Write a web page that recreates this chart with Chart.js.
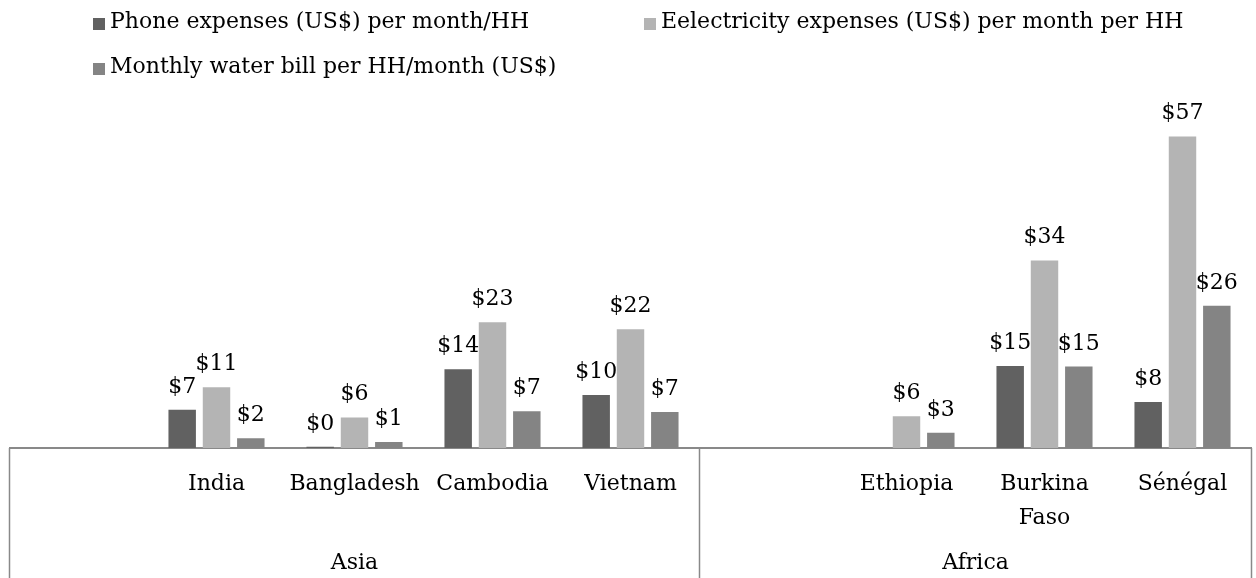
<!DOCTYPE html>
<html>
<head>
<meta charset="utf-8">
<script src="https://cdn.jsdelivr.net/npm/chart.js@4"></script>
<style>
  html, body { margin: 0; padding: 0; background: #fff; }
  #wrap { width: 1256px; height: 578px; }
</style>
</head>
<body>
<div id="wrap"><canvas id="chart" width="1256" height="578"></canvas></div>
<script>
const countries = ['', 'India', 'Bangladesh', 'Cambodia', 'Vietnam', '', 'Ethiopia', ['Burkina', 'Faso'], 'Sénégal'];
const regions = ['Asia', 'Africa'];
const regionSizes = [5, 4];

const phone = [null, 7.0, 0.25, 14.4, 9.7, null, null, 15.0, 8.4];
const electricity = [null, 11.1, 5.6, 23.0, 21.7, null, 5.8, 34.3, 57.0];
const water = [null, 1.8, 1.1, 6.7, 6.6, null, 2.8, 14.9, 26.0];

const seriesNames = [
    'Phone expenses (US$) per month/HH',
    'Eelectricity expenses (US$) per month per HH',
    'Monthly water bill per HH/month (US$)'
];

const FONT = 'DejaVu Serif';
const FSIZE = 22;
const LINE = '#898989';

// value labels above each bar
const barLabels = {
    id: 'barLabels',
    afterDatasetsDraw(chart) {
        const ctx = chart.ctx;
        ctx.save();
        ctx.font = FSIZE + 'px "' + FONT + '"';
        ctx.fillStyle = '#000';
        ctx.textAlign = 'center';
        ctx.textBaseline = 'alphabetic';
        chart.data.datasets.forEach(function(ds, i) {
            const meta = chart.getDatasetMeta(i);
            meta.data.forEach(function(bar, j) {
                const v = ds.data[j];
                if (v === null || v === undefined) return;
                ctx.fillText('$' + Math.round(v), bar.x, bar.y - 17);
            });
        });
        ctx.restore();
    }
};

// legend laid out in two columns like the original
const legendBoxes = {
    id: 'legendBoxes',
    afterDraw(chart) {
        const ctx = chart.ctx;
        const spots = [[110, 22], [661, 22], [110, 67]];
        ctx.save();
        ctx.font = FSIZE + 'px "' + FONT + '"';
        ctx.textBaseline = 'middle';
        ctx.textAlign = 'left';
        chart.data.datasets.forEach(function(ds, i) {
            const p = spots[i];
            ctx.fillStyle = ds.backgroundColor;
            ctx.fillRect(p[0] - 17, p[1] - 4, 12, 12);
            ctx.fillStyle = '#000';
            ctx.fillText(ds.label, p[0], p[1]);
        });
        ctx.restore();
    }
};

// second level of the category axis: region names and separators
const regionAxis = {
    id: 'regionAxis',
    afterDraw(chart) {
        const ctx = chart.ctx;
        const x = chart.scales.x;
        const area = chart.chartArea;
        const step = (area.right - area.left) / countries.length;
        ctx.save();
        ctx.strokeStyle = LINE;
        ctx.lineWidth = 1.5;
        ctx.font = FSIZE + 'px "' + FONT + '"';
        ctx.fillStyle = '#000';
        ctx.textAlign = 'center';
        ctx.textBaseline = 'middle';
        let start = 0;
        const edges = [x.getPixelForValue(0) - step / 2];
        regions.forEach(function(name, i) {
            const end = start + regionSizes[i] - 1;
            const left = x.getPixelForValue(start) - step / 2;
            const right = x.getPixelForValue(end) + step / 2;
            edges.push(right);
            ctx.fillText(name, (left + right) / 2, 563);
            start = end + 1;
        });
        edges.forEach(function(px) {
            ctx.beginPath();
            ctx.moveTo(px, area.bottom);
            ctx.lineTo(px, chart.height);
            ctx.stroke();
        });
        ctx.restore();
    }
};

const ctx = document.getElementById('chart');

new Chart(ctx, {
    type: 'bar',
    data: {
        labels: countries,
        datasets: [
            { label: seriesNames[0], data: phone, backgroundColor: '#616161' },
            { label: seriesNames[1], data: electricity, backgroundColor: '#b4b4b4' },
            { label: seriesNames[2], data: water, backgroundColor: '#848484' }
        ]
    },
    options: {
        responsive: false,
        animation: false,
        layout: {
            padding: { top: 120, left: 9.5, right: 4.5, bottom: 0 }
        },
        datasets: {
            bar: {
                categoryPercentage: 0.746,
                barPercentage: 0.8
            }
        },
        plugins: {
            legend: { display: false },
            tooltip: { enabled: false }
        },
        scales: {
            x: {
                grid: { display: false },
                border: { display: true, color: LINE, width: 2 },
                ticks: {
                    color: '#000',
                    padding: 11,
                    maxRotation: 0,
                    autoSkip: false,
                    font: { family: FONT, size: FSIZE, lineHeight: 1.55 }
                },
                afterFit(scale) {
                    scale.height = 130;
                }
            },
            y: {
                display: false,
                min: 0,
                max: 60
            }
        }
    },
    plugins: [barLabels, legendBoxes, regionAxis]
});
</script>
</body>
</html>
